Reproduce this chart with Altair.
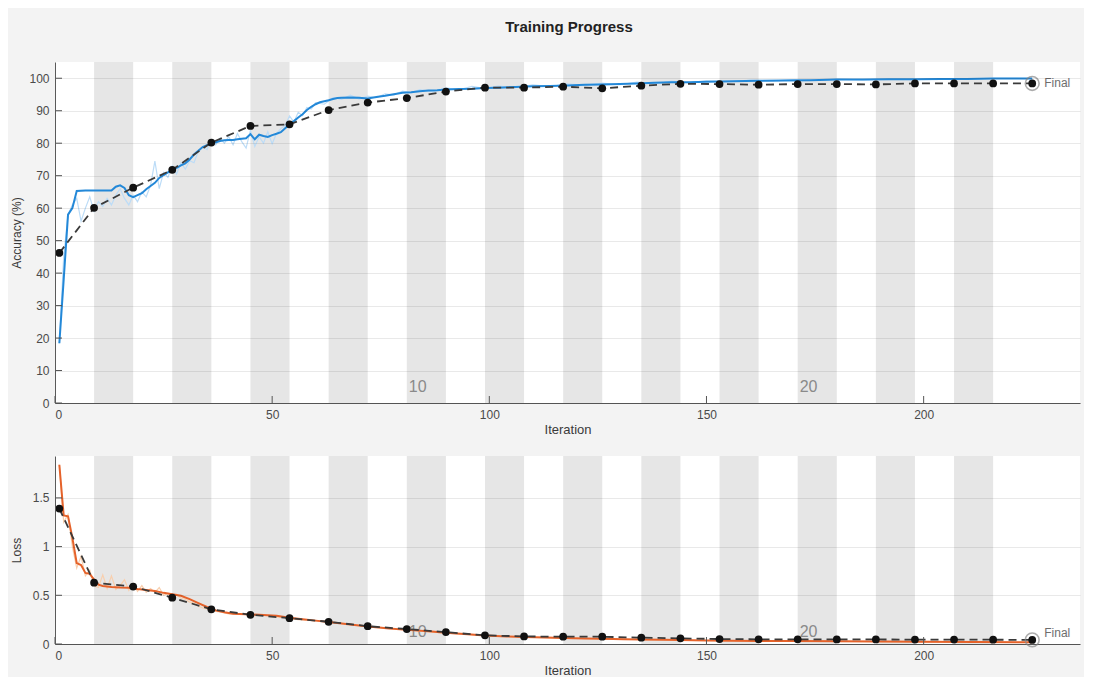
import altair as alt
import pandas as pd

# ---------------- data ----------------
iters_per_epoch = 9
n_epochs = 25
epoch_labels = [10, 20]
x_ticks = [0, 50, 100, 150, 200]
acc_ticks = [0, 10, 20, 30, 40, 50, 60, 70, 80, 90, 100]
loss_ticks = [0, 0.5, 1, 1.5]

val_iter = [1, 9, 18, 27, 36, 45, 54, 63, 72, 81, 90, 99, 108, 117, 126,
            135, 144, 153, 162, 171, 180, 189, 198, 207, 216, 225]
acc_val = [46.2, 60.1, 66.3, 71.8, 80.2, 85.3, 85.8, 90.2, 92.5, 93.9, 95.9, 97.1, 97.1,
           97.4, 96.9, 97.7, 98.3, 98.2, 98.0, 98.2, 98.2, 98.1, 98.4, 98.4, 98.4, 98.4]
loss_val = [1.39, 0.63, 0.59, 0.475, 0.356, 0.30, 0.265, 0.228, 0.183, 0.153, 0.122, 0.089,
            0.078, 0.075, 0.075, 0.065, 0.058, 0.051, 0.048, 0.048, 0.047, 0.047, 0.045,
            0.045, 0.044, 0.042]

acc_smooth_iter = [1, 2, 3, 4, 5, 7, 9, 11, 13, 14, 15, 16, 17, 18, 19, 20, 21, 22, 23, 24,
                   25, 26, 27, 28, 29, 30, 31, 32, 33, 34, 35, 36, 37, 38, 39, 40, 41, 42,
                   43, 44, 45, 46, 47, 48, 49, 50, 51, 52, 53, 54, 55, 56, 57, 58, 59, 60,
                   61, 62, 63, 64, 65, 66, 68, 70, 72, 74, 76, 78, 80, 82, 84, 86, 88, 90,
                   93, 96, 99, 102, 106, 110, 114, 118, 122, 126, 130, 134, 138, 142, 146,
                   150, 156, 162, 168, 174, 180, 186, 192, 198, 204, 210, 216, 225]
acc_smooth_val = [18.4, 38, 58, 60, 65.3, 65.4, 65.4, 65.4, 65.4, 66.6, 67.0, 66.2, 64.0,
                  63.4, 64.0, 64.6, 65.8, 66.8, 67.8, 69.3, 70.2, 71.0, 71.8, 72.4, 73.2,
                  73.8, 75.0, 76.5, 77.7, 78.8, 79.4, 80.0, 80.3, 80.7, 80.9, 81.0, 81.0,
                  81.2, 81.4, 81.5, 82.8, 81.2, 82.6, 82.2, 81.9, 82.5, 82.9, 83.4, 84.6,
                  85.8, 86.8, 87.9, 88.9, 90.2, 91.2, 92.0, 92.6, 92.9, 93.2, 93.6, 93.9,
                  94.0, 94.1, 94.0, 93.8, 94.2, 94.6, 95.1, 95.5, 95.7, 96.0, 96.2, 96.3,
                  96.5, 96.7, 96.8, 97.0, 97.1, 97.3, 97.5, 97.6, 97.8, 98.0, 98.1, 98.2,
                  98.4, 98.6, 98.8, 98.8, 98.9, 99.1, 99.2, 99.3, 99.4, 99.6, 99.6, 99.7,
                  99.7, 99.8, 99.8, 99.9, 99.9]

acc_raw_iter = list(range(1, 61)) + [62, 64, 66, 68, 70, 72, 74, 76, 78, 80, 82, 84, 87, 90,
                                      93, 96, 99, 102, 106, 110, 114, 118, 122, 126, 130,
                                      134, 138, 142, 146, 150, 155, 160, 165, 170, 175, 180,
                                      186, 192, 198, 204, 210, 216, 225]
acc_raw_val = [18.4, 45, 58, 61, 63, 56, 60, 63.5, 59, 62, 60.5, 63, 61, 64, 66, 63, 61, 64,
               62, 65, 63.5, 67, 74.5, 66, 71, 69.5, 73, 70.5, 74, 72, 74.6, 74, 77.5, 79,
               78, 81, 79.5, 81.5, 80, 82, 79.5, 83, 80.5, 78.5, 84, 79, 82, 80, 83.5, 79.8,
               83, 84.5, 85.5, 88.4, 86.5, 89.5, 88.5, 91, 90.5, 92.5,
               92, 94, 93.5, 94.8, 93.6, 94.5, 94, 95.2, 94.8, 96, 95.5, 96.5, 95.8, 97,
               96.4, 97.5, 96.8, 97.6, 97.1, 98, 97.4, 98.3, 97.8, 98.5, 98, 98.8, 98.3,
               99.1, 98.6, 99.2, 98.9, 99.4, 99.1, 99.6, 99.3, 99.7, 99.5, 99.8, 99.6, 99.9,
               99.7, 100, 99.9]

loss_smooth_iter = [1, 2, 3, 4, 5, 6, 7, 8, 9, 10, 11, 13, 15, 17, 19, 21, 23, 25, 27, 29,
                    31, 33, 35, 37, 39, 41, 44, 47, 51, 54, 57, 60, 63, 67, 72, 77, 81, 86,
                    90, 95, 99, 104, 108, 113, 117, 122, 126, 131, 135, 140, 144, 150, 156,
                    162, 170, 180, 190, 200, 212, 225]
loss_smooth_val = [1.84, 1.32, 1.31, 1.09, 0.83, 0.81, 0.73, 0.72, 0.66, 0.61, 0.595, 0.585,
                   0.58, 0.578, 0.565, 0.555, 0.545, 0.525, 0.51, 0.495, 0.46, 0.42, 0.38,
                   0.345, 0.325, 0.31, 0.305, 0.30, 0.29, 0.27, 0.255, 0.24, 0.225, 0.205,
                   0.18, 0.16, 0.145, 0.13, 0.115, 0.1, 0.088, 0.078, 0.072, 0.066, 0.062,
                   0.057, 0.053, 0.049, 0.046, 0.043, 0.04, 0.037, 0.034, 0.032, 0.03, 0.028,
                   0.025, 0.023, 0.02, 0.017]

loss_raw_iter = list(range(1, 37)) + [38, 40, 42, 44, 46, 48, 50, 53, 56, 60, 64, 68, 72, 76,
                                      80, 85, 90, 95, 100, 106, 112, 118, 124, 130, 136, 142,
                                      150, 160, 170, 180, 190, 200, 212, 225]
loss_raw_val = [1.84, 1.25, 1.33, 1.0, 0.78, 0.9, 0.7, 0.76, 0.6, 0.58, 0.71, 0.57, 0.7,
                0.56, 0.6, 0.66, 0.55, 0.62, 0.54, 0.6, 0.53, 0.57, 0.53, 0.58, 0.5, 0.52,
                0.49, 0.51, 0.47, 0.46, 0.43, 0.42, 0.39, 0.37, 0.36, 0.34,
                0.33, 0.31, 0.31, 0.3, 0.29, 0.3, 0.28, 0.27, 0.25, 0.24, 0.22, 0.2, 0.18,
                0.165, 0.15, 0.13, 0.112, 0.098, 0.085, 0.075, 0.066, 0.06, 0.054, 0.049,
                0.045, 0.041, 0.036, 0.032, 0.029, 0.027, 0.024, 0.022, 0.019, 0.016]

# ---------------- style ----------------
FONT = "Liberation Sans"
W = 1025
H1 = 341
H2 = 188
X_MAX = 236

band_df = pd.DataFrame({
    "it": [(e - 1) * iters_per_epoch for e in range(1, n_epochs + 1) if e % 2 == 0],
    "it2": [e * iters_per_epoch for e in range(1, n_epochs + 1) if e % 2 == 0],
})
epoch_df = pd.DataFrame({
    "it": [(e - 1) * iters_per_epoch for e in epoch_labels],
    "label": [str(e) for e in epoch_labels],
})
xtick_df = pd.DataFrame({"it": x_ticks})


def panel(H, ydom, yticks, yfmt, ytitle, raw_it, raw_v, sm_it, sm_v, vals,
          raw_color, line_color, final_dy, elab_off):
    xs = alt.Scale(domain=[0, X_MAX], nice=False, zero=False)
    ys = alt.Scale(domain=ydom, nice=False)
    X = alt.X("it:Q", scale=xs,
              axis=alt.Axis(values=x_ticks, title="Iteration", grid=False, ticks=False,
                            labelPadding=6, titlePadding=3, format="d", titleFontSize=13))
    Y = alt.Y("v:Q", scale=ys,
              axis=alt.Axis(values=yticks, title=ytitle, grid=True, ticks=False,
                            format=yfmt, labelPadding=6, titleX=-32, zindex=1,
                            titleFontSize=12))

    bands = alt.Chart(band_df).mark_rect(color="#e6e6e6").encode(
        x=X, x2="it2:Q", y=alt.value(0), y2=alt.value(H))
    raw = alt.Chart(pd.DataFrame({"it": raw_it, "v": raw_v})).mark_line(
        color=raw_color, strokeWidth=1.2).encode(x=X, y=Y)
    smooth = alt.Chart(pd.DataFrame({"it": sm_it, "v": sm_v})).mark_line(
        color=line_color, strokeWidth=2).encode(x=X, y=Y)
    vdf = pd.DataFrame({"it": val_iter, "v": vals})
    vline = alt.Chart(vdf).mark_line(color="#3a3a3a", strokeWidth=1.8,
                                     strokeDash=[8, 5]).encode(x=X, y=Y)
    vdots = alt.Chart(vdf).mark_circle(color="#111111", size=60, opacity=1).encode(x=X, y=Y)
    fdf = pd.DataFrame({"it": [val_iter[-1]], "v": [vals[-1]], "t": ["Final"]})
    ring = alt.Chart(fdf).mark_point(shape="circle", size=190, filled=False,
                                     color="#8a8a8a", strokeWidth=1.6).encode(x=X, y=Y)
    ftxt = alt.Chart(fdf).mark_text(align="left", baseline="middle", dx=12, dy=final_dy,
                                    font=FONT, fontSize=12, color="#6e6e6e").encode(
        x=X, y=Y, text="t:N")
    elab = alt.Chart(epoch_df).mark_text(align="left", baseline="bottom", dx=2,
                                         font=FONT, fontSize=16, color="#8a8a8a").encode(
        x=X, y=alt.value(H - elab_off), text="label:N")
    xt = alt.Chart(xtick_df).mark_rule(color="#555555", strokeWidth=1).encode(
        x=X, y=alt.value(H), y2=alt.value(H - 7))
    yt = alt.Chart(pd.DataFrame({"v": yticks})).mark_rule(color="#555555", strokeWidth=1).encode(
        y=Y, x=alt.value(0), x2=alt.value(7))
    return alt.layer(bands, elab, raw, smooth, vline, vdots, ring, ftxt, xt, yt).properties(
        width=W, height=H)


top = panel(H1, [0, 105], acc_ticks, "d", "Accuracy (%)", acc_raw_iter, acc_raw_val,
            acc_smooth_iter, acc_smooth_val, acc_val, "#bcdcf7", "#2388d8", 0, 8)
bottom = panel(H2, [0, 1.93], loss_ticks, "~g", "Loss", loss_raw_iter, loss_raw_val,
               loss_smooth_iter, loss_smooth_val, loss_val, "#f8cfae", "#e5622a", -7, 4)

chart = alt.vconcat(top, bottom, spacing=20).properties(
    title=alt.TitleParams("Training Progress", font=FONT, fontSize=15, fontWeight="bold",
                          color="#222222", anchor="middle", offset=27, dx=24),
    padding={"left": 2, "top": 12, "right": 4, "bottom": 0},
).configure(background="#f3f3f3").configure_view(
    stroke=None, fill="white"
).configure_axis(
    domainColor="#5a5a5a", domainWidth=1, labelColor="#4a4a4a", labelFont=FONT,
    labelFontSize=12, titleFont=FONT, titleFontWeight="normal",
    titleColor="#3a3a3a", gridColor="#262626", gridOpacity=0.1
)

chart.save("out.html", embed_options={"renderer": "svg", "actions": False})
